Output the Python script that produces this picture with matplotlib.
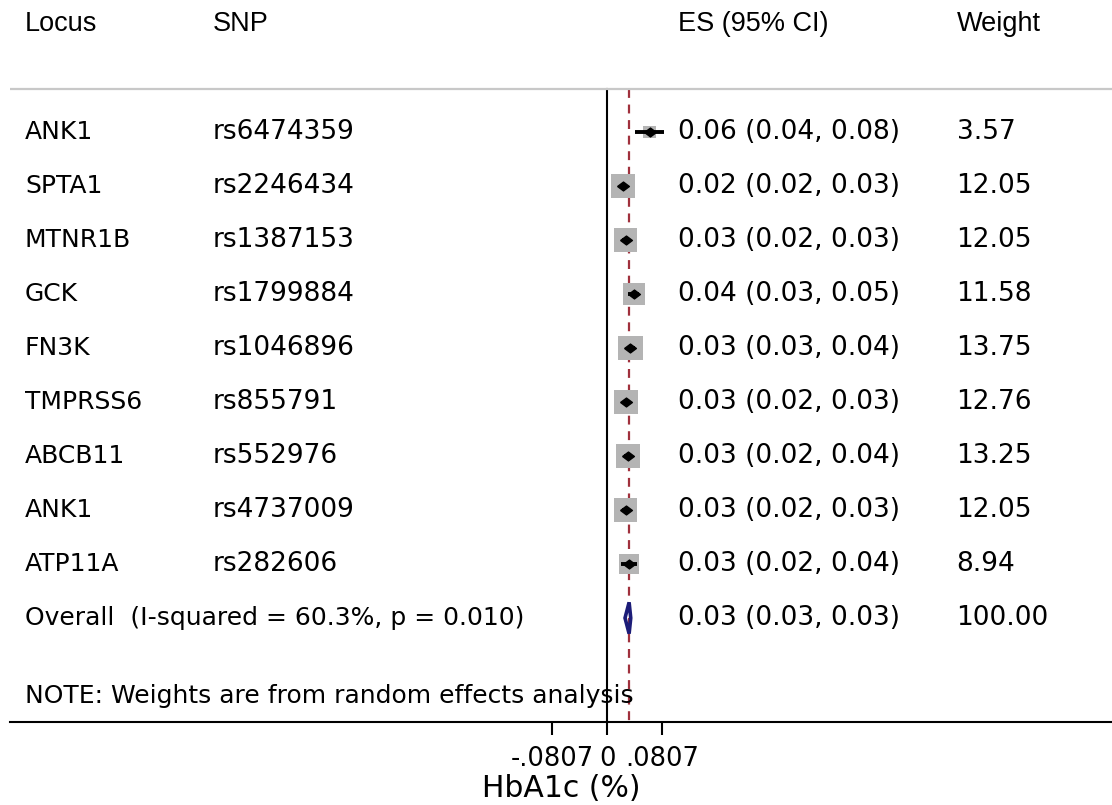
"""Forest plot of HbA1c effect sizes by locus (random effects meta-analysis)."""

import matplotlib.pyplot as plt
from matplotlib.patches import Polygon

LOCUS = ["ANK1", "SPTA1", "MTNR1B", "GCK", "FN3K", "TMPRSS6", "ABCB11", "ANK1", "ATP11A"]
SNP = ["rs6474359", "rs2246434", "rs1387153", "rs1799884", "rs1046896",
       "rs855791", "rs552976", "rs4737009", "rs282606"]
ES = [0.062, 0.023, 0.027, 0.039, 0.034, 0.028, 0.030, 0.027, 0.032]
CI_LO = [0.040, 0.018, 0.022, 0.031, 0.029, 0.023, 0.024, 0.022, 0.020]
CI_HI = [0.083, 0.028, 0.032, 0.047, 0.041, 0.033, 0.036, 0.032, 0.044]
WEIGHT = [3.57, 12.05, 12.05, 11.58, 13.75, 12.76, 13.25, 12.05, 8.94]

OVERALL_ES = 0.032
OVERALL_LO = 0.026
OVERALL_HI = 0.0344
OVERALL_WEIGHT = 100.00
I_SQUARED = 60.3
P_HET = 0.010

HEADERS = ["Locus", "SNP", "ES (95% CI)", "Weight"]
X_TICKS = [-0.0807, 0.0, 0.0807]
X_TICK_LABELS = ["-.0807", "0", ".0807"]
X_TITLE = "HbA1c (%)"
NOTE = "NOTE: Weights are from random effects analysis"

ROW_FONT = "DejaVu Sans"
HEAD_FONT = "Liberation Sans"

fig = plt.figure(figsize=(11.12, 8.05), dpi=100)
ax = fig.add_axes([10 / 1112, 83 / 805, 1102 / 1112, 722 / 805])
ax.set_xlim(-0.877, 0.741)
y_bottom, y_top = 10.926, -2.444
ax.set_ylim(y_bottom, y_top)

col_x = [0.0136, 0.184, 0.606, 0.859]
trans = ax.get_yaxis_transform()
num_kw = dict(fontsize=19, family=ROW_FONT, va="center", transform=trans)
word_kw = dict(num_kw, fontsize=18)

# header
for x, label in zip(col_x, HEADERS):
    ax.text(x, -2.0, label, fontsize=19.5, family=HEAD_FONT, va="center",
            transform=trans)
ax.axhline(-0.8, color="#c8c8c8", lw=1.6)

# study rows
rows = list(range(len(LOCUS)))
for i, (loc, snp, es, lo, hi, w) in enumerate(zip(LOCUS, SNP, ES, CI_LO, CI_HI, WEIGHT)):
    ax.text(col_x[0], i, loc, **word_kw)
    ax.text(col_x[1], i, snp, **num_kw)
    ax.text(col_x[2], i, f"{es:.2f} ({lo:.2f}, {hi:.2f})", **num_kw)
    ax.text(col_x[3], i, f"{w:.2f}", **num_kw)

point_marker = [(-1, 0), (0, 0.75), (1, 0), (0, -0.75), (-1, 0)]
ax.scatter(ES, rows, s=[23 * w for w in WEIGHT], marker="s", color="#b4b4b4",
           linewidths=0, zorder=2)
ax.hlines(rows, CI_LO, CI_HI, color="black", lw=2.8, zorder=3)
ax.plot(ES, rows, linestyle="none", marker=point_marker, color="black",
        markersize=8.5, zorder=4)

# overall
y_ov = len(LOCUS)
ax.text(col_x[0], y_ov,
        f"Overall  (I-squared = {I_SQUARED:.1f}%, p = {P_HET:.3f})", **word_kw)
ax.text(col_x[2], y_ov, f"{OVERALL_ES:.2f} ({OVERALL_LO:.2f}, {OVERALL_HI:.2f})",
        **num_kw)
ax.text(col_x[3], y_ov, f"{OVERALL_WEIGHT:.2f}", **num_kw)
diamond = Polygon([(OVERALL_LO, y_ov), (OVERALL_ES, y_ov - 0.29),
                   (OVERALL_HI, y_ov), (OVERALL_ES, y_ov + 0.29)],
                  closed=True, fill=False, edgecolor="#1c1c78", lw=2.6, zorder=4)
ax.add_patch(diamond)

ax.text(col_x[0], 10.45, NOTE, **word_kw)

# reference lines
ax.plot([0, 0], [-0.8, y_bottom], color="black", lw=1.5, zorder=1)
ax.plot([OVERALL_ES, OVERALL_ES], [-0.8, y_bottom], color="#a0303c", lw=1.6,
        dashes=(4, 3), zorder=1)

for side in ("top", "right", "left"):
    ax.spines[side].set_visible(False)
ax.spines["bottom"].set_linewidth(1.5)
ax.set_yticks([])
ax.set_xticks(X_TICKS)
ax.set_xticklabels(X_TICK_LABELS, fontsize=18.5, family=ROW_FONT)
ax.tick_params(axis="x", direction="out", length=9.5, width=1.5, pad=8)
ax.set_xlabel(X_TITLE, fontsize=21.5, family=ROW_FONT, labelpad=1)

fig.savefig("out.png", dpi=100)
